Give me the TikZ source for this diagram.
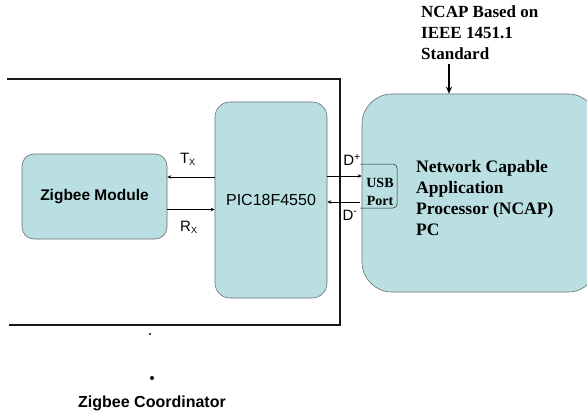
\documentclass[tikz,border=0pt]{standalone}
\usepackage{fontspec}
\setmainfont{Liberation Sans}
\newfontfamily\timesfont{Liberation Serif}
\usetikzlibrary{arrows.meta}
\definecolor{boxcyan}{HTML}{B9DFE2}

\begin{document}
\begin{tikzpicture}[
    x=1pt,y=-1pt,
    blk/.style={draw=gray!85!black,fill=boxcyan,rounded corners=12pt,inner sep=0pt,line width=0.6pt},
    sig/.style={-{Stealth[length=4pt,width=3.5pt]},line width=0.7pt},
    lbl/.style={font=\fontsize{15}{18}\selectfont,inner sep=0pt},
    serifbf/.style={font=\timesfont\bfseries\fontsize{#1}{21}\selectfont,inner sep=0pt}
    ]
    \useasboundingbox (0,0) rectangle (587,412);
    \clip (0,0) rectangle (587,412);
    % coordinator frame
    \draw[line width=1.2pt,gray!20!black] (7,79) -- (340,79) -- (340,325) -- (9,325);
    \node[blk,minimum width=145pt,minimum height=85pt,font=\bfseries\fontsize{15.5}{18}\selectfont] (zig) at (94.5,196.5) {Zigbee Module};
    \node[blk,rounded corners=15pt,minimum width=112pt,minimum height=196pt,font=\fontsize{16}{18}\selectfont] (pic) at (271,200) {PIC18F4550};
    \node[blk,rounded corners=30pt,minimum width=236pt,minimum height=198pt] (ncap) at (480,193) {};
    \node[serifbf=17.5,anchor=west,align=left] (ncaptxt) at (416,198.5) {Network Capable\\Application\\Processor (NCAP)\\PC};
    \node[serifbf=17,anchor=north west,align=left] (hdr) at (421,6) {NCAP Based on\\IEEE 1451.1\\Standard};
    \coordinate (hdrfoot) at (449,64);
    \draw[line width=1.8pt,-{Stealth[length=7pt,width=6pt]}] (hdrfoot) -- (hdrfoot |- ncap.north);
    % usb port
    \node[font=\timesfont\bfseries\fontsize{14}{18}\selectfont,inner sep=0pt,align=center] (usb) at (380,192) {USB\\Port};
    \draw[line width=0.5pt,gray!30!black,rounded corners=4pt] (360,164) -- (397,164) -- (397,208) -- (360,208);
    % signals
    \coordinate (tx) at ([yshift=23pt]pic.west);
    \coordinate (rx) at ([yshift=-13pt]zig.east);
    \coordinate (dp) at ([yshift=24pt]pic.east);
    \coordinate (dm) at (360,202);
    \draw[sig] (tx) -- (tx -| zig.east);
    \draw[sig] (rx) -- (rx -| pic.west);
    \draw[sig] (dp) -- (dp -| ncap.west);
    \draw[sig] (dm) -- (dm -| pic.east);
    \node[lbl] (txlbl) at (188,159) {T$_{\textsf{\small X}}$};
    \node[lbl] (rxlbl) at (189,227) {R$_{\textsf{\small X}}$};
    \node[lbl] (dplbl) at (352,160) {D\textsuperscript{+}};
    \node[lbl] (dmlbl) at (350,215) {D\textsuperscript{-}};
    % marks below the frame
    \fill (150,334) circle (1.2pt);
    \fill (152,378) circle (2pt);
    \node[font=\bfseries\fontsize{16}{18}\selectfont] (coord) at (152,403) {Zigbee Coordinator};
\end{tikzpicture}
\end{document}
